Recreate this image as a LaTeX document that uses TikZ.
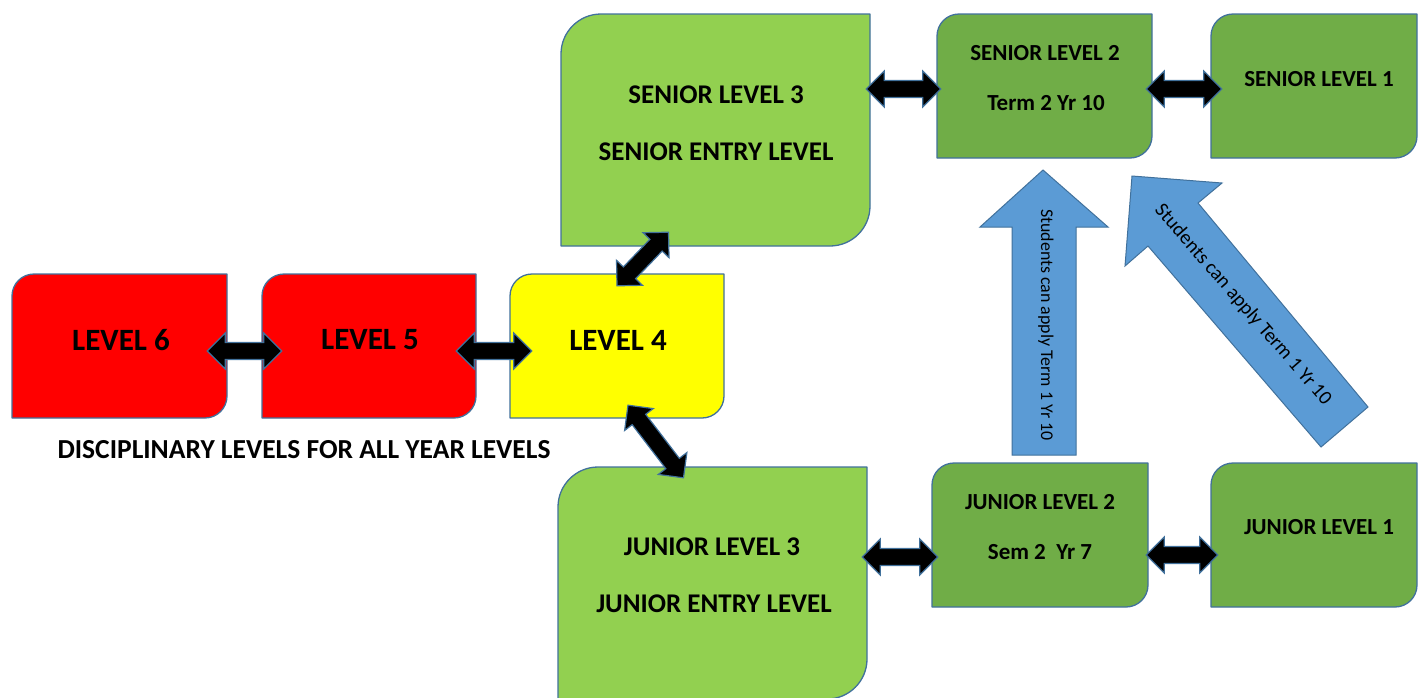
\documentclass[tikz,border=0pt]{standalone}
\usepackage{fontspec}
\setmainfont{Carlito}
\usetikzlibrary{calc,fit}
\definecolor{cred}{HTML}{FF0000}
\definecolor{cyel}{HTML}{FFFF00}
\definecolor{clg}{HTML}{92D050}
\definecolor{cdg}{HTML}{70AD47}
\definecolor{cblue}{HTML}{5B9BD5}
\definecolor{cline}{HTML}{41719C}
\tikzset{
  boxline/.style={draw=cline, line width=1.3pt, line join=round},
  dblarrow/.style={draw=cline, fill=black, line width=1.2pt, line join=miter},
  bluearrow/.style={draw=cline, fill=cblue, line width=1pt, line join=miter},
  bigt/.style={font=\bfseries\fontsize{31}{33}\selectfont, inner sep=0pt},
  midt/.style={font=\bfseries\fontsize{27}{29}\selectfont, inner sep=0pt},
  disct/.style={font=\bfseries\fontsize{27.5}{29}\selectfont, inner sep=0pt},
  smlt/.style={font=\bfseries\fontsize{23}{25}\selectfont, inner sep=0pt},
  arrt/.style={font=\fontsize{17.9}{19}\selectfont, inner sep=0pt},
  arrtb/.style={font=\fontsize{20}{22}\selectfont, inner sep=0pt},
}
% name, x1, y1, x2, y2, corner radius, fill colour
\newcommand\lvlbox[7]{%
  \filldraw[boxline, fill=#7] (#2,#3+#6) arc[start angle=180, end angle=270, radius=#6]
    -- (#4,#3) -- (#4,#5-#6) arc[start angle=0, end angle=90, radius=#6]
    -- (#2,#5) -- cycle;
  \node[fit={(#2,#3) (#4,#5)}, inner sep=0pt] (#1) {};
}
% block double arrow between two named coordinates
\newcommand\dbl[2]{%
  \filldraw[dblarrow] (#1)
    -- ($(#1)!18pt!(#2)!18pt!90:(#2)$)
    -- ($(#1)!18pt!(#2)!8.5pt!90:(#2)$)
    -- ($(#2)!18pt!(#1)!8.5pt!-90:(#1)$)
    -- ($(#2)!18pt!(#1)!18pt!-90:(#1)$)
    -- (#2)
    -- ($(#2)!18pt!(#1)!18pt!90:(#1)$)
    -- ($(#2)!18pt!(#1)!8.5pt!90:(#1)$)
    -- ($(#1)!18pt!(#2)!8.5pt!-90:(#2)$)
    -- ($(#1)!18pt!(#2)!18pt!-90:(#2)$)
    -- cycle;
}
\begin{document}
\begin{tikzpicture}[x=1pt, y=-1pt]
\useasboundingbox (0,0) rectangle (1418,697);
\fill[white] (0,0) rectangle (1418,697);

% boxes
\lvlbox{l6}{12}{274}{227}{418}{22}{cred}
\lvlbox{l5}{262}{274}{476}{418}{22}{cred}
\lvlbox{l4}{510}{274}{724}{418}{22}{cyel}
\lvlbox{s3}{561}{14}{870}{246}{40}{clg}
\lvlbox{s2}{937}{14}{1152}{158}{22}{cdg}
\lvlbox{s1}{1211}{14}{1417}{158}{22}{cdg}
\lvlbox{j3}{558}{467}{867}{699}{40}{clg}
\lvlbox{j2}{932}{463}{1148}{607}{22}{cdg}
\lvlbox{j1}{1211}{463}{1417}{607}{22}{cdg}

% texts
\node[bigt] (l6t) at (121,340) {LEVEL 6};
\node[bigt] (l5t) at (370,340) {LEVEL 5};
\node[bigt] (l4t) at (618,340) {LEVEL 4};
\node[midt] (s3a) at (716,95) {SENIOR LEVEL 3};
\node[midt] (s3b) at (716,152) {SENIOR ENTRY LEVEL};
\node[smlt] (s2a) at (1045,53) {SENIOR LEVEL 2};
\node[smlt] (s2b) at (1046,103) {Term 2 Yr 10};
\node[smlt] (s1a) at (1319,79) {SENIOR LEVEL 1};
\node[midt] (j3a) at (712,547) {JUNIOR LEVEL 3};
\node[midt] (j3b) at (714,604) {JUNIOR ENTRY LEVEL};
\node[smlt] (j2a) at (1040,502) {JUNIOR LEVEL 2};
\node[smlt] (j2b) at (1040,552) {Sem 2\ \ Yr 7};
\node[smlt] (j1a) at (1319,527) {JUNIOR LEVEL 1};
\node[disct] (disc) at (304,450) {DISCIPLINARY LEVELS FOR ALL YEAR LEVELS};

% double arrow end points, tied to the boxes
\coordinate (a1s) at ($(l6.east)+(-20,5)$);
\coordinate (a1e) at ($(l5.west)+(20,5)$);
\coordinate (a2s) at ($(l5.east)+(-20,5)$);
\coordinate (a2e) at ($(l4.west)+(22,5)$);
\coordinate (a3s) at ($(s3.east)+(-4,-41)$);
\coordinate (a3e) at ($(s2.west)+(4,3)$);
\coordinate (a4s) at ($(s2.east)+(-6,3)$);
\coordinate (a4e) at ($(s1.west)+(11,3)$);
\coordinate (a5s) at ($(j3.east)+(-5,-26)$);
\coordinate (a5e) at ($(j2.west)+(6,22)$);
\coordinate (a6s) at ($(j2.east)+(-2,20)$);
\coordinate (a6e) at ($(j1.west)+(7,20)$);
\coordinate (a7s) at ($(l4.north)+(0,12)$);
\coordinate (a7e) at ($(s3.south)+(-47,-14)$);
\coordinate (a8s) at ($(l4.south)+(11,-13)$);
\coordinate (a8e) at ($(j3.north)+(-29,11)$);

\dbl{a1s}{a1e}
\dbl{a2s}{a2e}
\dbl{a3s}{a3e}
\dbl{a4s}{a4e}
\dbl{a5s}{a5e}
\dbl{a6s}{a6e}
\dbl{a7s}{a7e}
\dbl{a8s}{a8e}

% blue block arrows
\filldraw[bluearrow] (1043,170) -- (1108,227) -- (1076,227) -- (1076,455)
  -- (1012,455) -- (1012,227) -- (980,227) -- cycle;
\coordinate (b1tip) at (1043,170);
\filldraw[bluearrow] (1132,176) -- (1222,183) -- (1198,203) -- (1368,407)
  -- (1321,447) -- (1148,246) -- (1125,266) -- cycle;
\coordinate (b2tip) at (1132,176);
\node[arrt, rotate=-90] (b1t) at (1046,325) {Students can apply Term 1 Yr 10};
\node[arrtb, rotate=-49] (b2t) at (1243,305) {Students can apply Term 1 Yr 10};
\end{tikzpicture}
\end{document}
